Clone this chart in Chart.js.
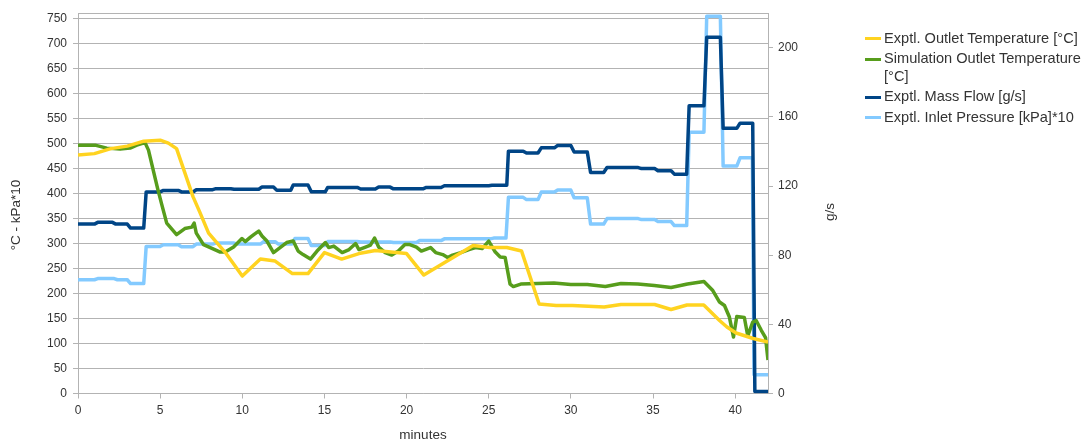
<!DOCTYPE html>
<html>
<head>
<meta charset="utf-8">
<script src="https://cdn.jsdelivr.net/npm/chart.js@4/dist/chart.umd.min.js"></script>
<style>
  html, body { margin: 0; padding: 0; background: #ffffff; }
  #wrap { position: relative; width: 1088px; height: 443px; overflow: hidden; }
  #chart { position: absolute; left: 0; top: 0; }
  #legend { position: absolute; left: 865px; top: 29.5px; font-family: "Liberation Sans", Arial, sans-serif;
            font-size: 14.6px; color: #333333; }
  .item { display: flex; align-items: flex-start; margin-bottom: 3px; line-height: 17.5px; }
  .swatch { width: 16px; height: 3px; margin-top: 7.5px; margin-right: 3px; flex: none; }
  .label { width: 204px; }
</style>
</head>
<body>
<div id="wrap">
  <canvas id="chart" width="1088" height="443"></canvas>
  <div id="legend"></div>
</div>
<script>
// Exptl. Outlet Temperature [°C] (left axis)
const outletTempTime   = [0, 1, 2, 3, 4, 5, 5.5, 6, 6.5, 7, 7.4, 7.95, 8.97, 10, 11.1, 12, 13.05, 14, 15, 16.05, 17.1, 18.1, 20, 21.05, 24.05, 25.05, 26.1, 27, 28.07, 29.1, 30.1, 32.03, 33.05, 35.1, 36.1, 37.07, 38.09, 39.05, 39.5, 40.06, 41.1, 42];
const outletTempValues = [477, 480, 490, 495, 505, 507, 501, 490, 442, 394, 364, 321, 282, 235, 269, 265, 240, 240, 282, 269, 280, 286, 280, 237, 296, 292, 292, 285, 179, 176, 176, 173, 178, 178, 168, 177, 177, 146, 133, 121, 110, 103];

// Simulation Outlet Temperature [°C] (left axis)
const simTempTime   = [0, 1.04, 1.75, 2.56, 3.17, 3.58, 4.08, 4.29, 4.6, 4.84, 5.1, 5.4, 6.0, 6.5, 6.93, 7.07, 7.2, 7.64, 8.05, 8.66, 8.96, 9.47, 9.98, 10.18, 10.5, 10.7, 11.0, 11.2, 11.5, 11.9, 12.3, 12.7, 13.1, 13.4, 13.7, 14.15, 14.55, 15.06, 15.26, 15.57, 16.08, 16.5, 16.9, 17.1, 17.5, 17.8, 18.05, 18.3, 18.7, 19.1, 19.5, 19.9, 20.2, 20.6, 20.9, 21.46, 21.77, 22.2, 22.5, 22.8, 23.3, 23.8, 24.2, 24.6, 25.0, 25.4, 25.7, 26.0, 26.3, 26.5, 26.95, 27.97, 28.97, 30.0, 31.0, 32.1, 33.05, 34.07, 35.08, 36.1, 37.1, 38.1, 38.64, 39.05, 39.35, 39.65, 39.9, 40.1, 40.56, 40.77, 41.07, 41.28, 41.6, 41.85, 42.0];
const simTempValues = [497, 497, 491, 489, 491, 497, 502, 487, 444, 411, 378, 341, 318, 330, 333, 341, 321, 298, 292, 283, 283, 293, 310, 304, 313, 318, 325, 315, 305, 282, 292, 302, 305, 285, 278, 269, 285, 302, 292, 295, 282, 288, 300, 288, 293, 297, 311, 293, 282, 277, 285, 298, 298, 293, 285, 292, 282, 278, 272, 277, 282, 288, 292, 290, 305, 283, 273, 272, 219, 214, 219, 220, 221, 218, 218, 214, 220, 219, 216, 212, 219, 224, 206, 183, 176, 153, 113, 154, 152, 115, 143, 146, 126, 112, 67];

// Exptl. Mass Flow [g/s] (right axis)
const massFlowTime   = [0, 1.0, 1.2, 2.1, 2.3, 3.0, 3.2, 4.0, 4.15, 5.0, 5.2, 6.1, 6.3, 7.0, 7.2, 8.2, 8.4, 9.3, 9.5, 11.0, 11.2, 11.9, 12.1, 12.95, 13.1, 14.0, 14.2, 15.05, 15.2, 17.0, 17.2, 18.1, 18.3, 19.0, 19.2, 21.0, 21.2, 22.1, 22.3, 25.0, 25.2, 26.1, 26.2, 27.1, 27.3, 28.0, 28.2, 29.0, 29.2, 30.0, 30.2, 31.0, 31.2, 32.0, 32.2, 34.1, 34.3, 35.1, 35.3, 36.1, 36.3, 37.05, 37.2, 38.1, 38.27, 39.1, 39.27, 40.1, 40.3, 41.07, 41.2, 42];
const massFlowValues = [98, 98, 99, 99, 98, 98, 95.7, 95.7, 116.6, 116.6, 117.5, 117.5, 116.6, 116.6, 117.9, 117.9, 118.5, 118.5, 118.2, 118.2, 119.4, 119.4, 117.6, 117.6, 120.6, 120.6, 116.7, 116.7, 119.2, 119.2, 118.3, 118.3, 119.4, 119.4, 118.4, 118.4, 119.2, 119.2, 120.2, 120.2, 120.5, 120.5, 140.2, 140.2, 139.1, 139.1, 142.1, 142.1, 143.5, 143.5, 139.7, 139.7, 127.8, 127.8, 130.7, 130.7, 130.1, 130.1, 128.9, 128.9, 126.9, 126.9, 166.4, 166.4, 206.1, 206.1, 153.4, 153.4, 156.4, 156.4, 1.1, 1.1];

// Exptl. Inlet Pressure [kPa]*10 (left axis)
const pressureTime   = [0, 1.0, 1.2, 2.2, 2.4, 3.0, 3.2, 4.0, 4.15, 5.0, 5.2, 6.1, 6.3, 7.0, 7.2, 8.2, 8.4, 9.5, 9.7, 11.1, 11.3, 12.0, 12.2, 13.0, 13.2, 14.0, 14.2, 15.0, 15.2, 17.0, 17.2, 19.0, 19.2, 20.6, 20.8, 22.1, 22.3, 25.1, 25.3, 26.05, 26.2, 27.1, 27.3, 28.0, 28.2, 29.0, 29.2, 30.0, 30.2, 31.0, 31.2, 32.0, 32.2, 34.1, 34.3, 35.1, 35.3, 36.1, 36.3, 37.05, 37.2, 38.1, 38.27, 39.1, 39.27, 40.1, 40.3, 41.05, 41.15, 42];
const pressureValues = [227.6, 227.6, 230, 230, 227.6, 227.6, 220, 220, 294.4, 294.4, 297.6, 297.6, 293.7, 293.7, 299, 299, 301, 301, 299, 299, 303.6, 303.6, 299, 299, 310, 310, 296, 296, 304, 304, 303, 303, 302, 302, 306, 306, 309.5, 309.5, 311, 311, 392.5, 392.5, 388, 388, 403, 403, 407, 407, 391.5, 391.5, 339, 339, 350, 350, 348, 348, 344, 344, 336, 336, 523, 523, 755, 755, 455, 455, 471.6, 471.6, 37.7, 37.7];

// Axis tick values
const minuteTicks = [0, 5, 10, 15, 20, 25, 30, 35, 40];
const leftTicks   = [0, 50, 100, 150, 200, 250, 300, 350, 400, 450, 500, 550, 600, 650, 700, 750];
const rightTicks  = [0, 40, 80, 120, 160, 200];

// Axis titles and legend labels
const xTitle = 'minutes';
const leftTitle = '°C - kPa*10';
const rightTitle = 'g/s';
const seriesNames = [
  'Exptl. Outlet Temperature [°C]',
  'Simulation Outlet Temperature [°C]',
  'Exptl. Mass Flow [g/s]',
  'Exptl. Inlet Pressure [kPa]*10'
];

const pairs = (xs, ys) => xs.map((x, i) => ({ x: x, y: ys[i] }));

const GRID = '#b3b3b3';
const TEXT = '#333333';
const FONT = '"Liberation Sans", Arial, sans-serif';

const lineStyle = { borderWidth: 3.5, pointRadius: 0, tension: 0, fill: false,
                    borderJoinStyle: 'round', borderCapStyle: 'butt' };

const fixedTicks = (values) => (scale) => { scale.ticks = values.map(v => ({ value: v })); };

// Frame round the plot area and the two vertical axis titles
const framePlugin = {
  id: 'frame',
  beforeDatasetsDraw(chart) {
    const a = chart.chartArea, ctx = chart.ctx;
    ctx.save();
    ctx.strokeStyle = GRID;
    ctx.lineWidth = 1;
    ctx.beginPath();
    ctx.moveTo(a.left, Math.round(a.top) + 0.5);
    ctx.lineTo(a.right, Math.round(a.top) + 0.5);
    ctx.stroke();
    ctx.restore();
  },
  afterDraw(chart) {
    const ctx = chart.ctx;
    ctx.save();
    ctx.fillStyle = TEXT;
    ctx.font = '13.5px ' + FONT;
    ctx.textAlign = 'center';
    ctx.textBaseline = 'middle';
    [[leftTitle, 16.7, 215], [rightTitle, 830, 212]].forEach(([t, x, y]) => {
      ctx.save();
      ctx.translate(x, y);
      ctx.rotate(-Math.PI / 2);
      ctx.fillText(t, 0, 0);
      ctx.restore();
    });
    ctx.restore();
  }
};

const chart = new Chart(document.getElementById('chart'), {
  type: 'line',
  data: {
    datasets: [
      Object.assign({ label: seriesNames[0], data: pairs(outletTempTime, outletTempValues), borderColor: '#ffd320', backgroundColor: '#ffd320', yAxisID: 'y' }, lineStyle),
      Object.assign({ label: seriesNames[1], data: pairs(simTempTime, simTempValues), borderColor: '#579d1c', backgroundColor: '#579d1c', yAxisID: 'y' }, lineStyle),
      Object.assign({ label: seriesNames[2], data: pairs(massFlowTime, massFlowValues), borderColor: '#004586', backgroundColor: '#004586', yAxisID: 'y1' }, lineStyle),
      Object.assign({ label: seriesNames[3], data: pairs(pressureTime, pressureValues), borderColor: '#83caff', backgroundColor: '#83caff', yAxisID: 'y' }, lineStyle)
    ]
  },
  options: {
    responsive: false,
    animation: false,
    devicePixelRatio: 1,
    layout: { padding: { top: 10, left: 0, right: 280, bottom: 0 } },
    plugins: { legend: { display: false }, tooltip: { enabled: false } },
    scales: {
      x: {
        type: 'linear', min: 0, max: 42,
        afterBuildTicks: fixedTicks(minuteTicks),
        afterFit: (s) => { s.height = 49.5; },
        grid: { drawOnChartArea: false, drawTicks: true, tickLength: 5, color: GRID },
        border: { color: GRID, width: 1 },
        ticks: { color: TEXT, font: { family: FONT, size: 12 }, padding: 5, maxRotation: 0, autoSkip: false },
        title: { display: true, text: xTitle, color: TEXT, font: { family: FONT, size: 13.5 }, padding: { top: 0, bottom: 0 } }
      },
      y: {
        type: 'linear', position: 'left', min: 0, max: 761,
        afterBuildTicks: fixedTicks(leftTicks),
        afterFit: (s) => { s.width = 78; },
        grid: { color: GRID, tickLength: 5 },
        border: { color: GRID, width: 1 },
        ticks: { color: TEXT, font: { family: FONT, size: 12 }, padding: 6, autoSkip: false }
      },
      y1: {
        type: 'linear', position: 'right', min: 0, max: 220,
        afterBuildTicks: fixedTicks(rightTicks),
        afterFit: (s) => { s.width = 40; },
        grid: { drawOnChartArea: false, color: GRID, tickLength: 5 },
        border: { color: GRID, width: 1 },
        ticks: { color: TEXT, font: { family: FONT, size: 12 }, padding: 5, autoSkip: false }
      }
    }
  },
  plugins: [framePlugin]
});

// Legend built from the chart's own datasets
const legend = document.getElementById('legend');
chart.data.datasets.forEach(ds => {
  const item = document.createElement('div');
  item.className = 'item';
  const sw = document.createElement('span');
  sw.className = 'swatch';
  sw.style.background = ds.borderColor;
  const tx = document.createElement('span');
  tx.className = 'label';
  tx.textContent = ds.label;
  item.appendChild(sw);
  item.appendChild(tx);
  legend.appendChild(item);
});
</script>
</body>
</html>
